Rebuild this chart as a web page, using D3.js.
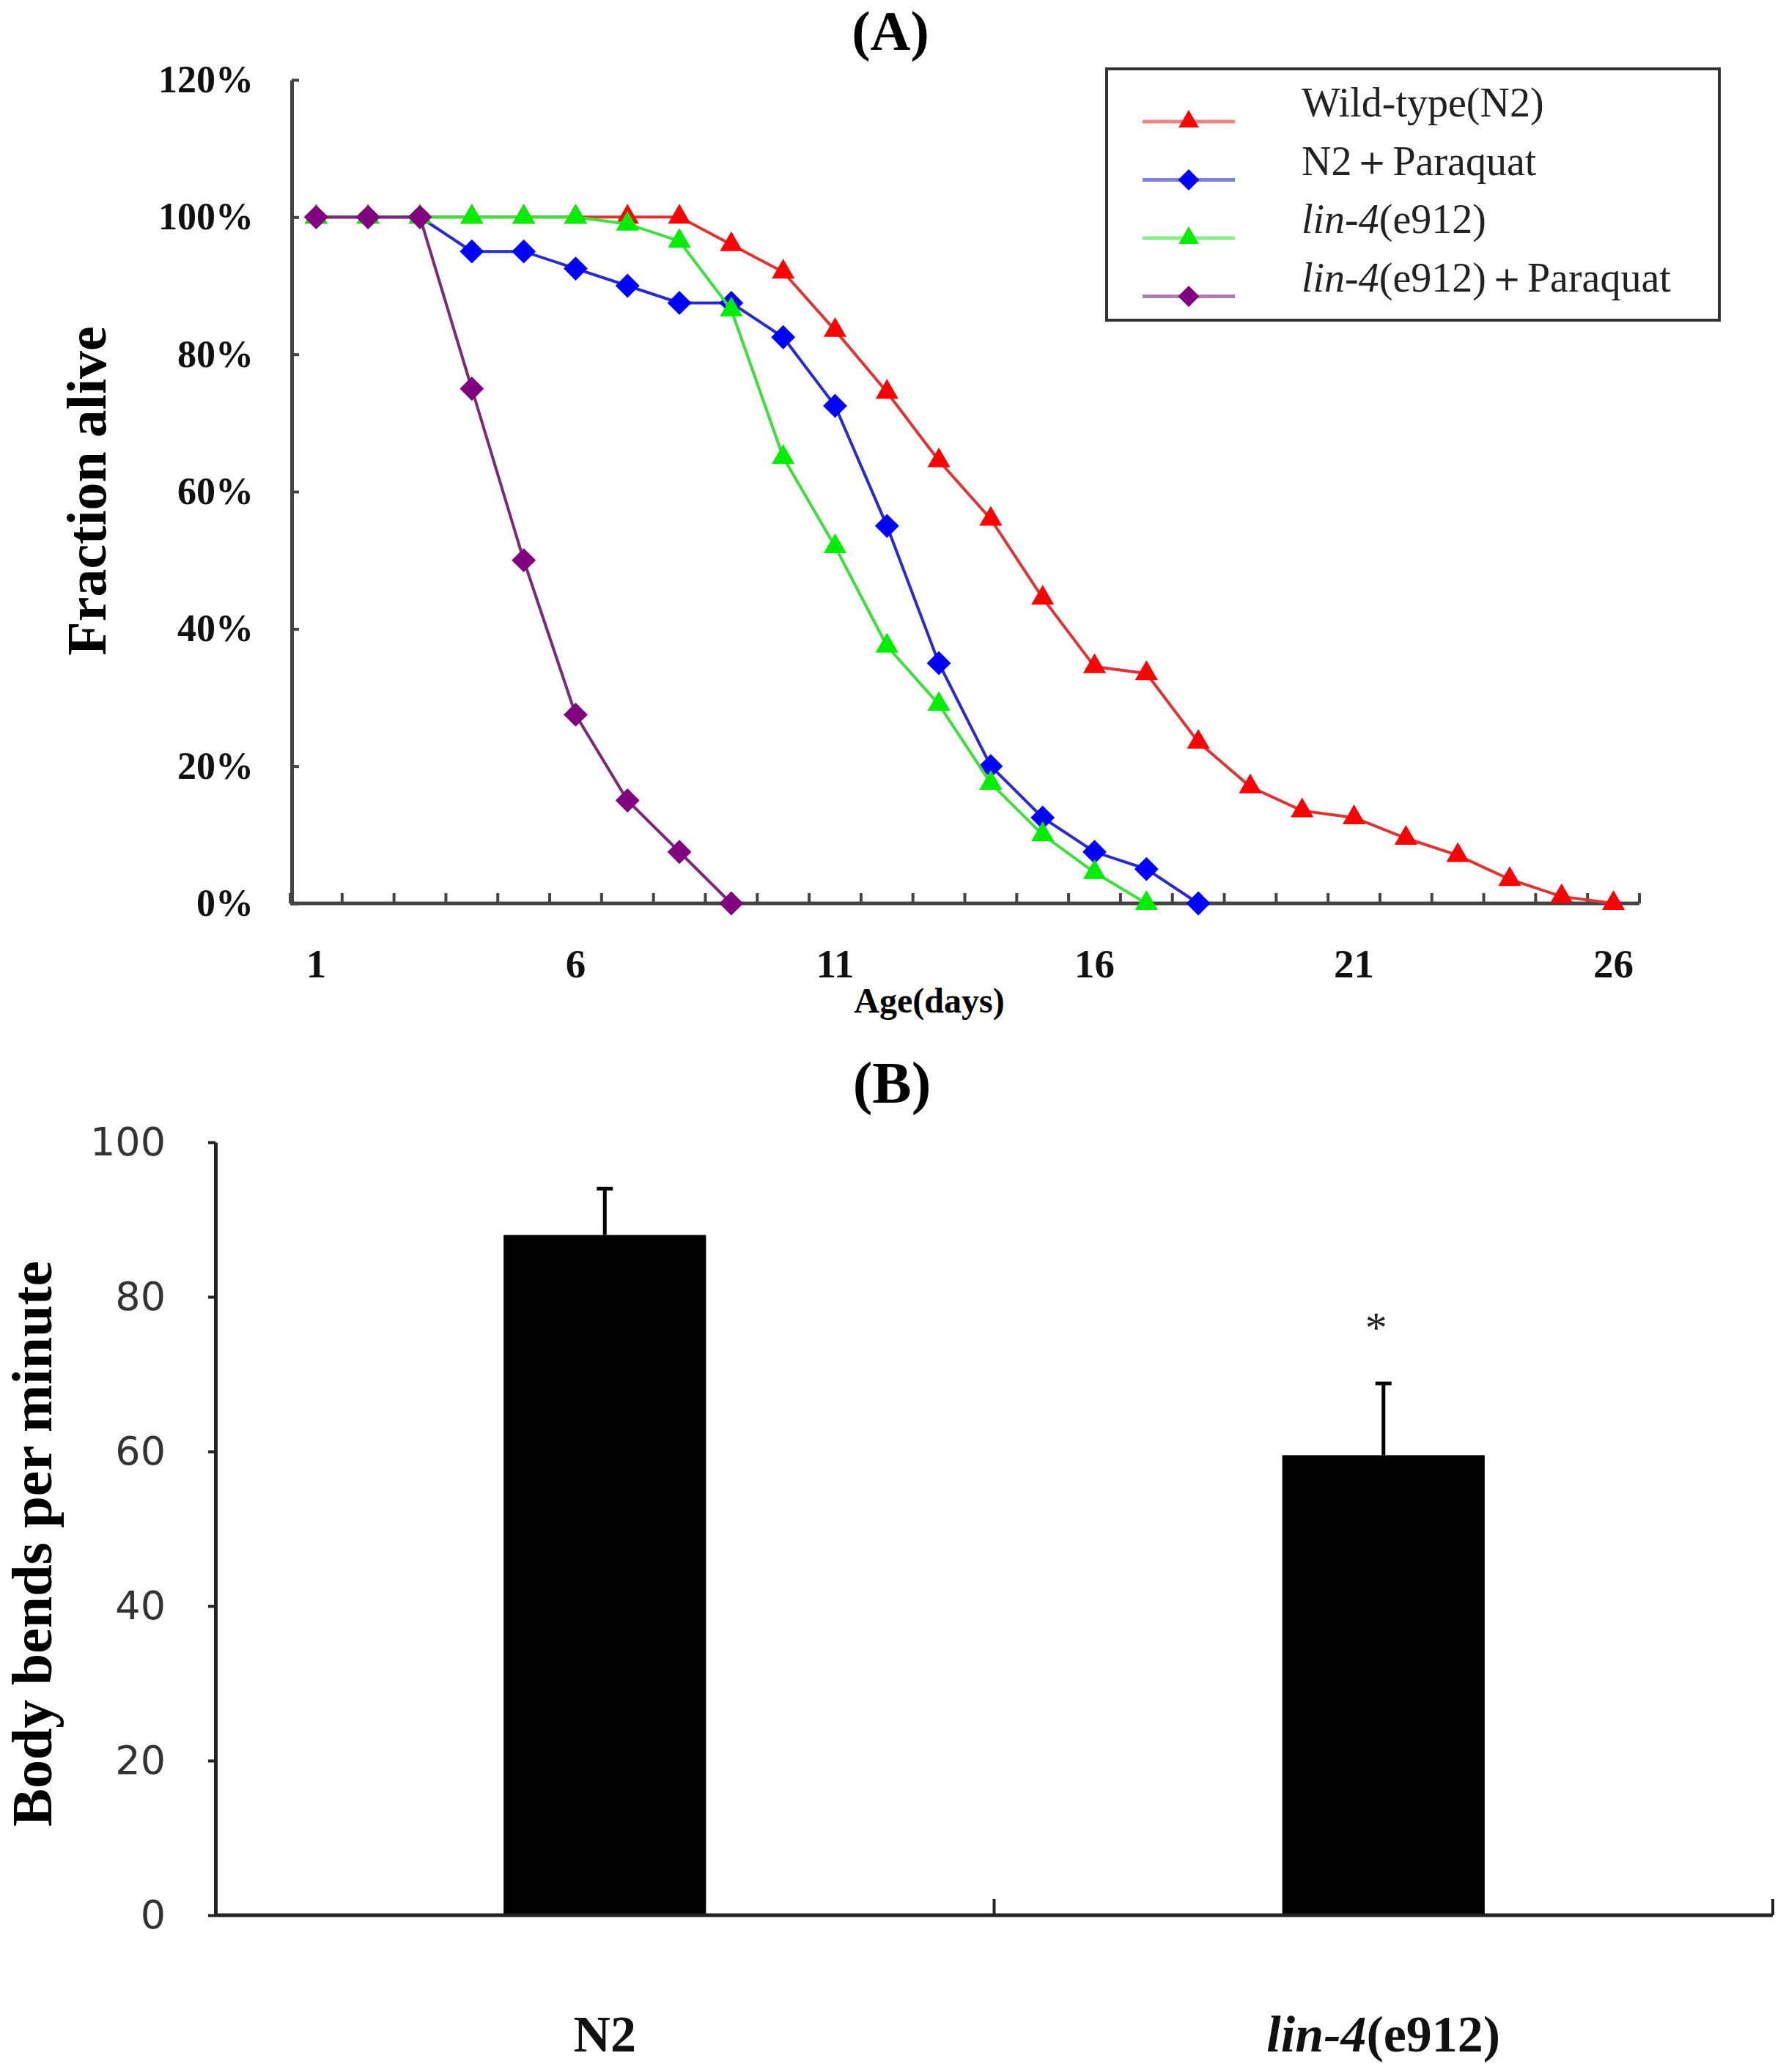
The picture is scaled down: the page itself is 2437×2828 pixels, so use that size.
<!DOCTYPE html>
<html>
<head>
<meta charset="utf-8">
<script src="https://cdnjs.cloudflare.com/ajax/libs/d3/7.8.5/d3.min.js"></script>
<style>
  body { margin: 0; background: #fff; }
  svg { display: block; }
  .serif { font-family: "Liberation Serif", "Times New Roman", serif; }
</style>
</head>
<body>
<svg id="fig" width="2437" height="2828"></svg>
<script>
// panel A: survival, days 1..26
var days = [1, 2, 3, 4, 5, 6, 7, 8, 9, 10, 11, 12, 13, 14, 15, 16, 17, 18, 19, 20, 21, 22, 23, 24, 25, 26];
var dayLabels = [1, 6, 11, 16, 21, 26];
var percentTicks = [0, 0.2, 0.4, 0.6, 0.8, 1.0, 1.2];

var wildType = [100, 100, 100, 100, 100, 100, 100, 100, 96, 92, 83.5, 74.5, 64.5, 56, 44.5, 34.5, 33.5, 23.5, 17, 13.5, 12.5, 9.5, 7, 3.5, 1, 0];
var n2Paraquat = [100, 100, 100, 95, 95, 92.5, 90, 87.5, 87.5, 82.5, 72.5, 55, 35, 20, 12.5, 7.5, 5, 0];
var lin4 = [100, 100, 100, 100, 100, 100, 99, 96.5, 86.5, 65, 52, 37.5, 29, 17.5, 10, 4.5, 0];
var lin4Paraquat = [100, 100, 100, 75, 50, 27.5, 15, 7.5, 0];
var seriesNames = ['Wild-type(N2)', 'N2\uFF0BParaquat', 'lin-4(e912)', 'lin-4(e912)\uFF0BParaquat'];

// panel B: body bends
var strains = ['N2', 'lin-4(e912)'];
var bendsMean = [88, 59.5];
var bendsErr = [6, 9.3];
var bendsSig = ['', '*'];
var bendsTicks = [0, 20, 40, 60, 80, 100];

(function() {
  var SERIF = '"Liberation Serif", "Times New Roman", serif';
  var svg = d3.select('#fig');
  svg.append('rect').attr('width', 2437).attr('height', 2828).attr('fill', '#fff');

  buildSurvival();
  buildBends();

  // "lin-4" is italic wherever it shows up
  function writeLabel(sel, label) {
    sel.text(null);
    if (label.indexOf('lin-4') === 0) {
      sel.append('tspan').attr('font-style', 'italic').text('lin-4');
      sel.append('tspan').text(label.slice(5));
    } else {
      sel.text(label);
    }
  }

  function buildSurvival() {
    var g = svg.append('g').attr('class', 'serif');
    var series = [wildType, n2Paraquat, lin4, lin4Paraquat];
    var colors = ['#ff0000', '#0000ff', '#00ee00', '#800080'];
    var lineColors = ['#e03434', '#2a2ad0', '#3be03b', '#7a2a7a'];
    var shapes = ['triangle', 'diamond', 'triangle', 'diamond'];

    var x = d3.scaleBand().domain(days).range([396, 2237]);
    var y = d3.scaleLinear().domain([0, 1.2]).range([1233, 109]);
    var xc = function(d) { return x(d) + x.bandwidth() / 2; };

    g.append('text')
      .attr('x', 1215).attr('y', 68)
      .attr('text-anchor', 'middle')
      .attr('font-size', 76).attr('font-weight', 'bold')
      .text('(A)');

    // y axis, ticks pointing inside
    var yAxis = g.append('g')
      .attr('transform', 'translate(398,0)')
      .call(d3.axisLeft(y)
        .tickValues(percentTicks)
        .tickFormat(d3.format('.0%'))
        .tickSizeInner(-10)
        .tickSizeOuter(0)
        .tickPadding(52))
      .attr('font-family', SERIF);
    yAxis.select('.domain').attr('stroke', '#444').attr('stroke-width', 5);
    yAxis.selectAll('.tick line').attr('stroke', '#444').attr('stroke-width', 4);
    yAxis.selectAll('.tick text')
      .attr('font-size', 52).attr('font-weight', 'bold').attr('fill', '#111');

    // x axis: category axis, tick marks between days
    var edges = days.map(function(d) { return x(d); }).concat([x.range()[1]]);
    var xAxis = g.append('g').attr('transform', 'translate(0,' + y(0) + ')');
    xAxis.append('line')
      .attr('x1', x.range()[0]).attr('x2', x.range()[1])
      .attr('stroke', '#444').attr('stroke-width', 5);
    xAxis.selectAll('line.edge')
      .data(edges)
      .enter().append('line')
        .attr('class', 'edge')
        .attr('x1', function(d) { return d; }).attr('x2', function(d) { return d; })
        .attr('y1', 0).attr('y2', -14)
        .attr('stroke', '#444').attr('stroke-width', 4);

    var xLabels = g.append('g')
      .attr('transform', 'translate(0,' + y(0) + ')')
      .call(d3.axisBottom(x).tickValues(dayLabels).tickSize(0).tickPadding(62))
      .attr('font-family', SERIF);
    xLabels.select('.domain').remove();
    xLabels.selectAll('.tick text')
      .attr('font-size', 55).attr('font-weight', 'bold').attr('fill', '#111');

    g.append('text')
      .attr('x', 1268).attr('y', 1382)
      .attr('text-anchor', 'middle')
      .attr('font-size', 48).attr('font-weight', 'bold')
      .text('Age(days)');

    g.append('text')
      .attr('transform', 'translate(144,670) rotate(-90)')
      .attr('text-anchor', 'middle')
      .attr('font-size', 76).attr('font-weight', 'bold')
      .text('Fraction alive');

    var line = d3.line()
      .x(function(v, i) { return xc(days[i]); })
      .y(function(v) { return y(v / 100); });

    function symbolPath(shape, size) {
      if (shape === 'diamond') return d3.symbol(d3.symbolSquare, size)();
      return d3.symbol(d3.symbolTriangle, size)();
    }

    series.forEach(function(vals, k) {
      var sg = g.append('g');
      sg.append('path')
        .attr('d', line(vals))
        .attr('fill', 'none')
        .attr('stroke', lineColors[k])
        .attr('stroke-width', 4);
      sg.selectAll('path.mark')
        .data(vals)
        .enter().append('path')
          .attr('class', 'mark')
          .attr('d', symbolPath(shapes[k], shapes[k] === 'diamond' ? 540 : 420))
          .attr('transform', function(v, i) {
            var t = 'translate(' + xc(days[i]) + ',' + y(v / 100) + ')';
            return shapes[k] === 'diamond' ? t + ' rotate(45)' : t;
          })
          .attr('fill', colors[k]);
    });

    // legend
    var legend = g.append('g');
    legend.append('rect')
      .attr('x', 1510).attr('y', 94)
      .attr('width', 836).attr('height', 343)
      .attr('fill', '#fff')
      .attr('stroke', '#333').attr('stroke-width', 4);

    seriesNames.forEach(function(name, k) {
      var ry = 166 + k * 79.5;
      legend.append('line')
        .attr('x1', 1559).attr('x2', 1685)
        .attr('y1', ry).attr('y2', ry)
        .attr('stroke', lineColors[k]).attr('stroke-opacity', 0.6)
        .attr('stroke-width', 5);
      legend.append('path')
        .attr('d', symbolPath(shapes[k], shapes[k] === 'diamond' ? 420 : 330))
        .attr('transform', 'translate(1622,' + ry + ')' + (shapes[k] === 'diamond' ? ' rotate(45)' : ''))
        .attr('fill', colors[k]);
      legend.append('text')
        .attr('x', 1776).attr('y', ry - 7)
        .attr('font-size', 56).attr('fill', '#222')
        .call(writeLabel, name);
    });
  }

  function buildBends() {
    var g = svg.append('g').attr('class', 'serif');

    var x = d3.scaleBand().domain(strains).range([294, 2419]);
    var y = d3.scaleLinear().domain([0, 100]).range([2614, 1559]);
    var barW = x.bandwidth() * 0.26;
    var xc = function(d) { return x(d) + x.bandwidth() / 2; };

    g.append('text')
      .attr('x', 1217).attr('y', 1505)
      .attr('text-anchor', 'middle')
      .attr('font-size', 80).attr('font-weight', 'bold')
      .text('(B)');

    var yAxis = g.append('g')
      .attr('transform', 'translate(294,0)')
      .call(d3.axisLeft(y)
        .tickValues(bendsTicks)
        .tickSizeInner(10)
        .tickSizeOuter(0)
        .tickPadding(58))
      .attr('font-family', '"DejaVu Sans", sans-serif');
    yAxis.select('.domain').attr('stroke', '#222').attr('stroke-width', 5);
    yAxis.selectAll('.tick line').attr('stroke', '#222').attr('stroke-width', 4);
    yAxis.selectAll('.tick text')
      .attr('font-size', 54).attr('fill', '#333');

    g.append('text')
      .attr('transform', 'translate(70,2107) rotate(-90)')
      .attr('text-anchor', 'middle')
      .attr('font-size', 78).attr('font-weight', 'bold')
      .text('Body bends per minute');

    // bars
    g.selectAll('rect.bar')
      .data(strains)
      .enter().append('rect')
        .attr('class', 'bar')
        .attr('x', function(d) { return xc(d) - barW / 2; })
        .attr('width', barW)
        .attr('y', function(d, i) { return y(bendsMean[i]); })
        .attr('height', function(d, i) { return y(0) - y(bendsMean[i]); })
        .attr('fill', '#000');

    // upper error bars only
    strains.forEach(function(d, i) {
      var top = y(bendsMean[i] + bendsErr[i]);
      g.append('line')
        .attr('x1', xc(d)).attr('x2', xc(d))
        .attr('y1', y(bendsMean[i])).attr('y2', top)
        .attr('stroke', '#000').attr('stroke-width', 5);
      g.append('line')
        .attr('x1', xc(d) - 11).attr('x2', xc(d) + 11)
        .attr('y1', top).attr('y2', top)
        .attr('stroke', '#000').attr('stroke-width', 5);
      if (bendsSig[i]) {
        g.append('text')
          .attr('x', xc(d) - 10).attr('y', top - 56)
          .attr('text-anchor', 'middle')
          .attr('font-size', 60).attr('fill', '#222')
          .text(bendsSig[i]);
      }
    });

    // x axis
    var xAxis = g.append('g').attr('transform', 'translate(0,' + y(0) + ')');
    xAxis.append('line')
      .attr('x1', x.range()[0]).attr('x2', x.range()[1])
      .attr('stroke', '#222').attr('stroke-width', 5);
    var edges = strains.map(function(d) { return x(d); }).concat([x.range()[1]]);
    xAxis.selectAll('line.edge')
      .data(edges.slice(1))
      .enter().append('line')
        .attr('class', 'edge')
        .attr('x1', function(d) { return d; }).attr('x2', function(d) { return d; })
        .attr('y1', 0).attr('y2', -22)
        .attr('stroke', '#222').attr('stroke-width', 4);

    var xLabels = g.append('g')
      .attr('transform', 'translate(0,' + y(0) + ')')
      .call(d3.axisBottom(x).tickSize(0).tickPadding(136))
      .attr('font-family', SERIF);
    xLabels.select('.domain').remove();
    xLabels.selectAll('.tick text')
      .attr('font-size', 70).attr('font-weight', 'bold').attr('fill', '#111')
      .each(function(d) { writeLabel(d3.select(this), d); });
  }
})();
</script>
</body>
</html>
